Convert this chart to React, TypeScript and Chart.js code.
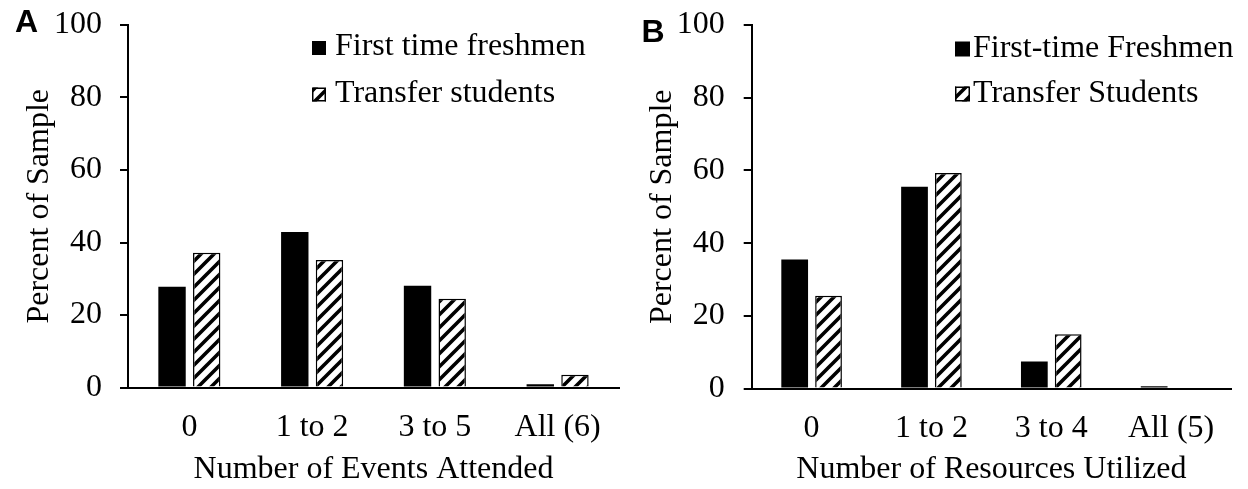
import React, { useEffect, useRef } from 'react';
import { Chart, registerables } from 'chart.js';

Chart.register(...registerables);

// ---------- data ----------
const categoriesA = ['0', '1 to 2', '3 to 5', 'All (6)'];
const freshmenA = [27.8, 42.9, 28.1, 0.9];
const transferA = [37.2, 35.2, 24.5, 3.5];
const legendLabelsA = ['First time freshmen', 'Transfer students'];
const xTitleA = 'Number of Events Attended';

const categoriesB = ['0', '1 to 2', '3 to 4', 'All (5)'];
const freshmenB = [35.5, 55.5, 7.4, 0.6];
const transferB = [25.5, 59.3, 14.9, 0];
const legendLabelsB = ['First-time Freshmen', 'Transfer Students'];
const xTitleB = 'Number of Resources Utilized';

const yTickValues = [0, 20, 40, 60, 80, 100];
const yTitle = 'Percent of Sample';

const SERIF = '"Liberation Serif", "Times New Roman", serif';
const SANS = '"Liberation Sans", Arial, sans-serif';

function makeHatch(): CanvasPattern | string {
  const size = 13;
  const c = document.createElement('canvas');
  c.width = size;
  c.height = size;
  const g = c.getContext('2d');
  if (!g) return '#fff';
  g.fillStyle = '#fff';
  g.fillRect(0, 0, size, size);
  g.strokeStyle = '#000';
  g.lineWidth = 3.6;
  g.lineCap = 'square';
  for (const off of [-size, 0, size]) {
    g.beginPath();
    g.moveTo(off - 2, size + 2);
    g.lineTo(off + size + 2, -2);
    g.stroke();
  }
  const p = g.createPattern(c, 'repeat');
  return p || '#fff';
}

const decorPlugin = {
  id: 'panelDecor',
  afterDraw(chart: any, _args: any, opts: any) {
    const ctx = chart.ctx as CanvasRenderingContext2D;
    ctx.save();
    ctx.fillStyle = '#000';
    ctx.textAlign = 'left';
    ctx.textBaseline = 'alphabetic';
    ctx.font = `bold 32px ${SANS}`;
    ctx.fillText(opts.letter, opts.letterX, opts.letterY);
    ctx.font = `32px ${SERIF}`;
    chart.data.datasets.forEach((ds: any, i: number) => {
      const base = opts.legendY[i];
      const top = base - opts.box;
      ctx.fillStyle = ds.backgroundColor;
      ctx.fillRect(opts.boxX, top, opts.box, opts.box);
      if (ds.borderWidth) {
        ctx.lineWidth = 1.5;
        ctx.strokeStyle = '#000';
        ctx.strokeRect(opts.boxX + 0.75, top + 0.75, opts.box - 1.5, opts.box - 1.5);
      }
      ctx.fillStyle = '#000';
      ctx.fillText(ds.label, opts.textX, base);
    });
    ctx.restore();
  },
};

type PanelProps = {
  categories: string[];
  freshmen: number[];
  transfer: number[];
  legendLabels: string[];
  xTitle: string;
  letter: string;
  letterX: number;
  letterY: number;
  axisLeft: number;
  padTop: number;
  padRight: number;
  xScaleHeight: number;
  yTitlePad: number;
  yTickPad: number;
  boxX: number;
  textX: number;
  legendY: number[];
  box: number;
  left: number;
};

function Panel(p: PanelProps) {
  const ref = useRef<HTMLCanvasElement>(null);
  useEffect(() => {
    if (!ref.current) return;
    const hatch = makeHatch();
    const chart = new Chart(ref.current, {
      type: 'bar',
      data: {
        labels: p.categories,
        datasets: [
          {
            label: p.legendLabels[0],
            data: p.freshmen,
            backgroundColor: '#000',
            borderWidth: 0,
            categoryPercentage: 0.565,
            barPercentage: 0.79,
          },
          {
            label: p.legendLabels[1],
            data: p.transfer,
            backgroundColor: hatch as any,
            borderColor: '#000',
            borderWidth: 1.5,
            categoryPercentage: 0.565,
            barPercentage: 0.79,
          },
        ],
      },
      options: {
        responsive: false,
        animation: false,
        devicePixelRatio: 1,
        layout: { padding: { top: p.padTop, right: p.padRight, left: 0, bottom: 0 } },
        plugins: {
          legend: { display: false },
          tooltip: { enabled: false },
          panelDecor: {
            letter: p.letter,
            letterX: p.letterX,
            letterY: p.letterY,
            boxX: p.boxX,
            textX: p.textX,
            legendY: p.legendY,
            box: p.box,
          },
        } as any,
        scales: {
          x: {
            grid: { display: false, drawTicks: false },
            border: { display: true, color: '#000', width: 2 },
            ticks: {
              color: '#000',
              font: { family: SERIF, size: 32 },
              padding: 21,
              maxRotation: 0,
              autoSkip: false,
            },
            title: {
              display: true,
              text: p.xTitle,
              color: '#000',
              font: { family: SERIF, size: 32 },
              padding: { top: 0, bottom: 0 },
            },
            afterFit: (s: any) => {
              s.height = p.xScaleHeight;
              s.paddingLeft = 0;
              s.paddingRight = 0;
            },
          },
          y: {
            min: 0,
            max: 100,
            grid: {
              display: true,
              drawOnChartArea: false,
              drawTicks: true,
              tickLength: 8,
              tickWidth: 2,
              color: '#000',
              lineWidth: 2,
            },
            border: { display: true, color: '#000', width: 2 },
            ticks: {
              color: '#000',
              font: { family: SERIF, size: 32 },
              padding: p.yTickPad,
              stepSize: 20,
            },
            afterBuildTicks: (s: any) => {
              s.ticks = yTickValues.map((v) => ({ value: v }));
            },
            title: {
              display: true,
              text: yTitle,
              color: '#000',
              font: { family: SERIF, size: 32 },
              padding: { top: p.yTitlePad, bottom: 0 },
            },
            afterFit: (s: any) => {
              s.width = p.axisLeft;
              s.paddingTop = 0;
              s.paddingBottom = 0;
            },
          },
        },
      },
      plugins: [decorPlugin as any],
    });
    return () => chart.destroy();
  }, []);
  return (
    <canvas
      ref={ref}
      width={624}
      height={489}
      style={{ position: 'absolute', left: p.left, top: 0, width: 624, height: 489 }}
    />
  );
}

export default function App() {
  return (
    <div style={{ position: 'absolute', left: 0, top: 0, width: 1248, height: 489, background: '#fff' }}>
      <Panel
        categories={categoriesA}
        freshmen={freshmenA}
        transfer={transferA}
        legendLabels={legendLabelsA}
        xTitle={xTitleA}
        letter="A"
        letterX={15}
        letterY={31.5}
        axisLeft={128}
        padTop={25}
        padRight={5}
        xScaleHeight={101.5}
        yTitlePad={20}
        yTickPad={18}
        boxX={312}
        textX={335}
        legendY={[55, 101.5]}
        box={14}
        left={0}
      />
      <Panel
        categories={categoriesB}
        freshmen={freshmenB}
        transfer={transferB}
        legendLabels={legendLabelsB}
        xTitle={xTitleB}
        letter="B"
        letterX={17.5}
        letterY={41.5}
        axisLeft={127.7}
        padTop={25}
        padRight={17}
        xScaleHeight={100.5}
        yTitlePad={19}
        yTickPad={19}
        boxX={331}
        textX={349}
        legendY={[56.5, 101.5]}
        box={15}
        left={624}
      />
    </div>
  );
}
